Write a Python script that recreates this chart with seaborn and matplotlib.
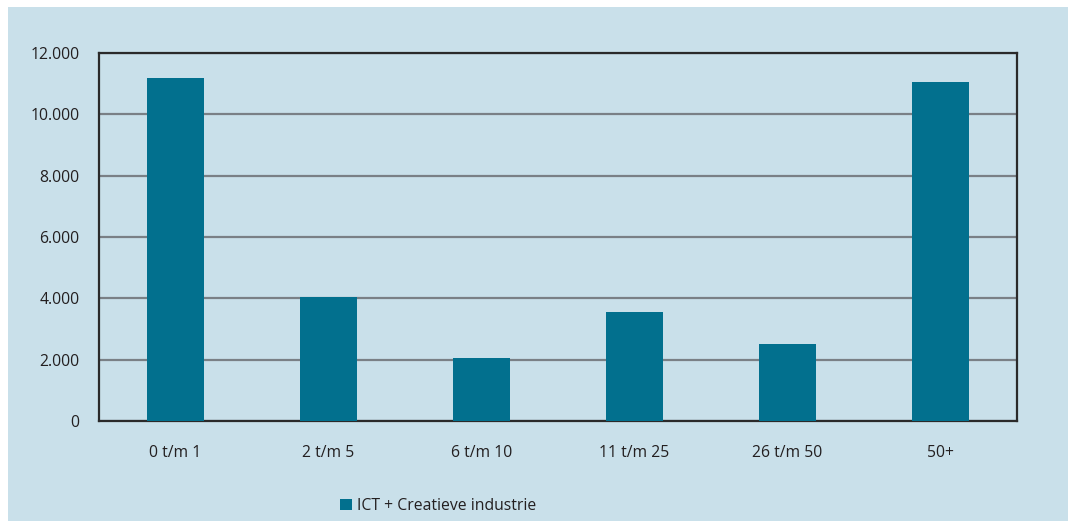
import matplotlib
matplotlib.use("Agg")
import matplotlib.pyplot as plt
import seaborn as sns
import pandas as pd
from matplotlib.patches import Rectangle, Patch
from matplotlib.ticker import FuncFormatter, FixedLocator

categories = ["0 t/m 1", "2 t/m 5", "6 t/m 10", "11 t/m 25", "26 t/m 50", "50+"]
values = [11200, 4050, 2050, 3550, 2520, 11050]
series_name = "ICT + Creatieve industrie"
yticks = [0, 2000, 4000, 6000, 8000, 10000, 12000]

bg = "#c9e0ea"
bar_color = "#02708e"
text_color = "#231f20"

sns.set_theme(style="white")
plt.rcParams["font.family"] = ["Open Sans", "DejaVu Sans"]

fig = plt.figure(figsize=(10.68, 5.21), dpi=100)
fig.patch.set_facecolor("white")
fig.patches.append(Rectangle((8 / 1068, 0), 1 - 8 / 1068, 1 - 7 / 521,
                             transform=fig.transFigure, facecolor=bg,
                             edgecolor="none", zorder=-10))

ax = fig.add_axes([99 / 1068, 1 - 421 / 521, (1017 - 99) / 1068, (421 - 53) / 521])
ax.set_facecolor(bg)

df = pd.DataFrame({"cat": categories, "val": values})
sns.barplot(data=df, x="cat", y="val", color=bar_color, saturation=1,
            width=0.373, ax=ax, zorder=3, edgecolor="none")

ax.set_xlim(-0.5, len(categories) - 0.5)
ax.set_ylim(0, 12000)
ax.set_yticks(yticks)
ax.yaxis.set_major_formatter(FuncFormatter(lambda v, p: f"{int(v):,}".replace(",", ".")))
ax.grid(axis="y", color="#7a8086", linewidth=1.6, zorder=1)
ax.set_axisbelow(True)

for s in ax.spines.values():
    s.set_visible(True)
    s.set_color("#2a2a2a")
    s.set_linewidth(1.6)

fs = 11.3
ax.tick_params(axis="y", length=0, pad=14, labelsize=fs, labelcolor=text_color)
ax.tick_params(axis="x", which="major", length=0, pad=17, labelsize=fs, labelcolor=text_color)
ax.xaxis.set_minor_locator(FixedLocator([i - 0.5 for i in range(len(categories) + 1)]))
ax.tick_params(axis="x", which="minor", length=6, width=1.2, color="#2a2a2a", direction="out")
ax.set_xlabel("")
ax.set_ylabel("")

handle = Patch(facecolor=bar_color, edgecolor="none")
fig.legend([handle], [series_name], loc="center left",
           bbox_to_anchor=(326 / 1068, 1 - 506 / 521), frameon=False,
           handlelength=0.75, handleheight=0.75, handletextpad=0.3,
           fontsize=fs, labelcolor=text_color)

fig.savefig("out.png", dpi=100, facecolor=fig.get_facecolor())
